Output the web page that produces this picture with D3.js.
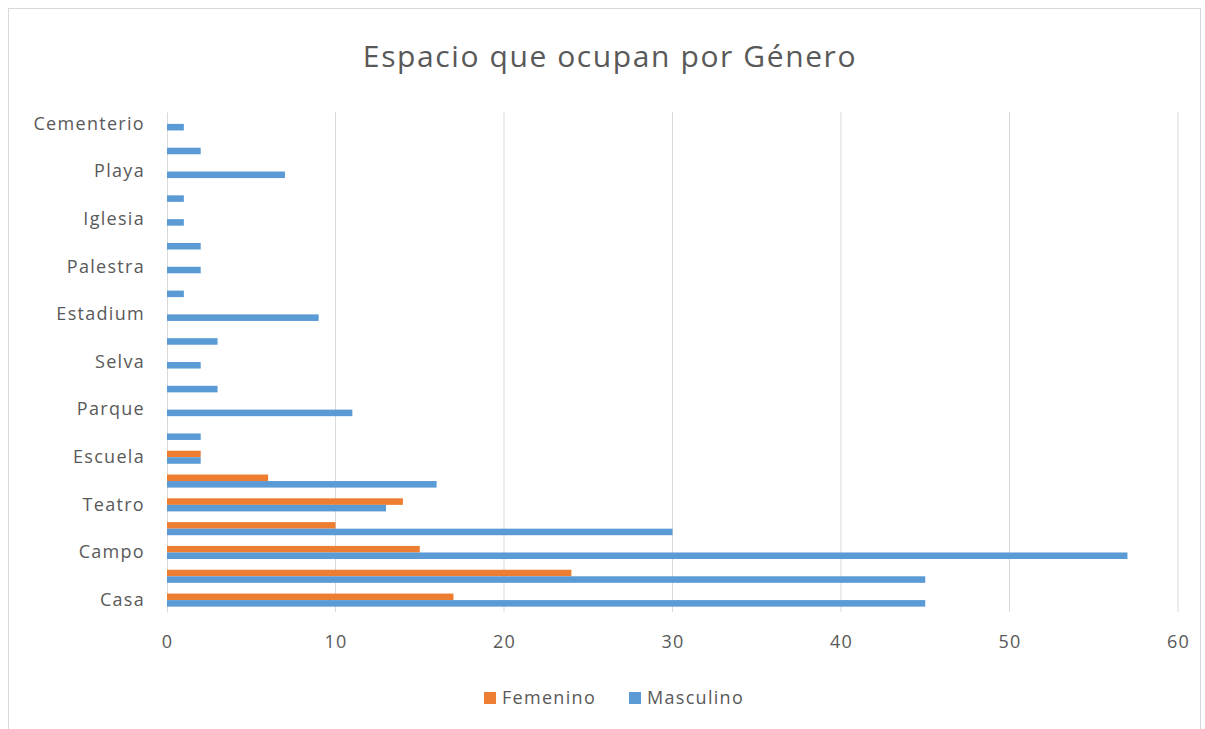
<!DOCTYPE html>
<html>
<head>
<meta charset="utf-8">
<script src="https://cdn.jsdelivr.net/npm/d3@7"></script>
<style>
  body { margin: 0; background: #fff; }
  svg { display: block; }
  text { font-family: 'Open Sans', sans-serif; fill: #595959; }
</style>
</head>
<body>
<div id="chart"></div>
<script>
// categories listed bottom to top; the ones Excel skipped have no readable label
const categories = ['Casa', '', 'Campo', '', 'Teatro', '', 'Escuela', '', 'Parque', '', 'Selva',
  '', 'Estadium', '', 'Palestra', '', 'Iglesia', '', 'Playa', '', 'Cementerio'];
const femenino  = [17, 24, 15, 10, 14, 6, 2, 0, 0, 0, 0, 0, 0, 0, 0, 0, 0, 0, 0, 0, 0];
const masculino = [45, 45, 57, 30, 13, 16, 2, 2, 11, 3, 2, 3, 9, 1, 2, 2, 1, 1, 7, 2, 1];
const xTicks = [0, 10, 20, 30, 40, 50, 60];
const seriesNames = ['Femenino', 'Masculino'];
const colors = { Femenino: '#ED7D31', Masculino: '#5B9BD5' };

const width = 1205, height = 729;
const margin = { top: 112, right: 27, bottom: 117, left: 167 };

const svg = d3.select('#chart').append('svg')
  .attr('width', width)
  .attr('height', height);

// chart frame (cut off at the bottom like the screenshot)
svg.append('rect')
  .attr('x', 8.5).attr('y', 8.5)
  .attr('width', 1192).attr('height', 740)
  .attr('fill', 'none')
  .attr('stroke', '#d9d9d9');

// title
svg.append('text')
  .attr('x', 610).attr('y', 67)
  .attr('text-anchor', 'middle')
  .style('font-size', '30px')
  .style('letter-spacing', '1.6px')
  .text('Espacio que ocupan por Género');

const x = d3.scaleLinear()
  .domain([0, 60])
  .range([margin.left, width - margin.right]);

const y = d3.scaleBand()
  .domain(d3.range(categories.length))
  .range([height - margin.bottom, margin.top])
  .paddingInner(0.45)
  .paddingOuter(0.225);

const sub = d3.scaleBand()
  .domain(seriesNames)
  .range([0, y.bandwidth()]);

// gridlines
svg.append('g')
  .selectAll('line')
  .data(xTicks.slice(1))
  .join('line')
  .attr('x1', d => x(d)).attr('x2', d => x(d))
  .attr('y1', margin.top).attr('y2', height - margin.bottom)
  .attr('stroke', '#d9d9d9')
  .attr('stroke-width', 1);

// y axis
const yAxis = svg.append('g')
  .attr('transform', 'translate(' + margin.left + ',0)')
  .call(d3.axisLeft(y).tickSize(0).tickPadding(22).tickFormat(i => categories[i]));
yAxis.select('.domain').attr('stroke', '#d9d9d9');
yAxis.selectAll('text').style('font-size', '18px').style('letter-spacing', '1.3px');

// x axis labels
const xAxis = svg.append('g')
  .attr('transform', 'translate(0,' + (height - margin.bottom) + ')')
  .call(d3.axisBottom(x).tickValues(xTicks).tickSize(0).tickPadding(23));
xAxis.select('.domain').remove();
xAxis.selectAll('text').style('font-size', '18px').style('letter-spacing', '1.3px');

// bars
const rows = d3.range(categories.length).map(i => ({
  i: i, Femenino: femenino[i], Masculino: masculino[i]
}));

svg.append('g')
  .selectAll('g')
  .data(rows)
  .join('g')
  .attr('transform', d => 'translate(0,' + y(d.i) + ')')
  .selectAll('rect')
  .data(d => seriesNames.map(s => ({ s: s, v: d[s] })))
  .join('rect')
  .attr('x', x(0))
  .attr('y', d => sub(d.s))
  .attr('height', sub.bandwidth())
  .attr('width', d => x(d.v) - x(0))
  .attr('fill', d => colors[d.s]);

// legend
const legendItems = [
  { name: 'Femenino', x: 484 },
  { name: 'Masculino', x: 629 }
];
const legend = svg.append('g')
  .selectAll('g')
  .data(legendItems)
  .join('g')
  .attr('transform', d => 'translate(' + d.x + ',692)');
legend.append('rect')
  .attr('width', 12).attr('height', 12)
  .attr('fill', d => colors[d.name]);
legend.append('text')
  .attr('x', 18).attr('y', 6)
  .attr('dy', '0.35em')
  .style('font-size', '18px')
  .style('letter-spacing', '1.3px')
  .text(d => d.name);
</script>
</body>
</html>
